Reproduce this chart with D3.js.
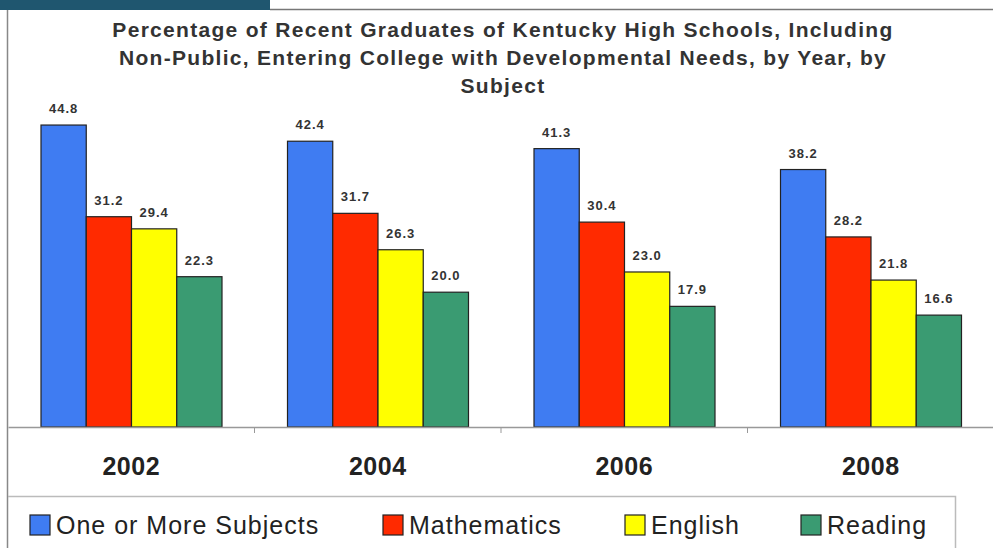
<!DOCTYPE html>
<html>
<head>
<meta charset="utf-8">
<script src="https://cdn.jsdelivr.net/npm/d3@7"></script>
<style>
  body { margin: 0; background: #fff; }
  svg { display: block; font-family: "Liberation Sans", Arial, sans-serif; }
</style>
</head>
<body>
<svg id="chart" width="993" height="548"></svg>
<script>
const years = ['2002', '2004', '2006', '2008'];
const subjects = ['One or More Subjects', 'Mathematics', 'English', 'Reading'];
const oneOrMore = [44.8, 42.4, 41.3, 38.2];
const mathematics = [31.2, 31.7, 30.4, 28.2];
const english = [29.4, 26.3, 23.0, 21.8];
const reading = [22.3, 20.0, 17.9, 16.6];
const titleLines = [
  'Percentage of Recent Graduates of Kentucky High Schools, Including',
  'Non-Public, Entering College with Developmental Needs, by Year, by',
  'Subject'
];

const series = [oneOrMore, mathematics, english, reading];
const colors = ['#3f7cf2', '#ff2a00', '#ffff00', '#3a9b72'];

const svg = d3.select('#chart');

// page frame bits
svg.append('rect').attr('x', 0).attr('y', 0).attr('width', 270).attr('height', 10).attr('fill', '#1f566f');
svg.append('line').attr('x1', 270).attr('x2', 993).attr('y1', 9.5).attr('y2', 9.5).attr('stroke', '#777').attr('stroke-width', 1.5);
svg.append('line').attr('x1', 7.5).attr('x2', 7.5).attr('y1', 10).attr('y2', 548).attr('stroke', '#888').attr('stroke-width', 1.5);

// title
svg.append('g')
  .selectAll('text')
  .data(titleLines)
  .join('text')
  .attr('x', 503)
  .attr('y', (d, i) => 37 + i * 28)
  .attr('text-anchor', 'middle')
  .attr('font-size', 21)
  .attr('letter-spacing', 1.3)
  .attr('font-weight', 'bold')
  .attr('fill', '#333')
  .text(d => d);

const x0 = d3.scaleBand().domain(years).range([8, 994]).paddingInner(0).paddingOuter(0);
const x1 = d3.scaleBand().domain(d3.range(subjects.length)).range([33, 214]);
const y = d3.scaleLinear().domain([0, 50]).range([427, 90]);

const groups = svg.append('g')
  .selectAll('g')
  .data(years)
  .join('g')
  .attr('transform', d => `translate(${x0(d)},0)`);

groups.selectAll('rect')
  .data((d, yi) => series.map((s, si) => ({ si, v: s[yi] })))
  .join('rect')
  .attr('x', d => x1(d.si))
  .attr('width', x1.bandwidth())
  .attr('y', d => y(d.v))
  .attr('height', d => y(0) - y(d.v))
  .attr('fill', d => colors[d.si])
  .attr('stroke', '#222')
  .attr('stroke-width', 1.2);

groups.selectAll('text')
  .data((d, yi) => series.map((s, si) => ({ si, v: s[yi] })))
  .join('text')
  .attr('x', d => x1(d.si) + x1.bandwidth() / 2)
  .attr('y', d => y(d.v) - 12)
  .attr('text-anchor', 'middle')
  .attr('font-size', 13)
  .attr('letter-spacing', 1)
  .attr('font-weight', 'bold')
  .attr('fill', '#333')
  .text(d => d.v.toFixed(1));

// x axis
const axis = svg.append('g')
  .attr('transform', `translate(0,${y(0)})`)
  .call(d3.axisBottom(x0).tickSize(0).tickSizeOuter(0).tickPadding(30));
axis.select('.domain').attr('stroke', '#999').attr('stroke-width', 1.5);
axis.selectAll('.tick text')
  .attr('font-size', 25)
  .attr('letter-spacing', 0.5)
  .attr('font-weight', 'bold')
  .attr('fill', '#222')
  .attr('font-family', '"Liberation Sans", Arial, sans-serif');

// category separators
svg.append('g')
  .selectAll('line')
  .data(years.slice(1))
  .join('line')
  .attr('x1', d => x0(d))
  .attr('x2', d => x0(d))
  .attr('y1', y(0))
  .attr('y2', y(0) + 6)
  .attr('stroke', '#999');

// legend
svg.append('path')
  .attr('d', 'M8,496.5H955.5V548')
  .attr('fill', 'none')
  .attr('stroke', '#bbb')
  .attr('stroke-width', 1.5);

const legendX = [30, 383, 625, 801];
const legend = svg.append('g')
  .selectAll('g')
  .data(subjects)
  .join('g')
  .attr('transform', (d, i) => `translate(${legendX[i]},515)`);
legend.append('rect')
  .attr('width', 20)
  .attr('height', 20)
  .attr('fill', (d, i) => colors[i])
  .attr('stroke', '#222')
  .attr('stroke-width', 1.2);
legend.append('text')
  .attr('x', 26)
  .attr('y', 19)
  .attr('font-size', 25)
  .attr('letter-spacing', 1)
  .attr('fill', '#222')
  .text(d => d);
</script>
</body>
</html>
